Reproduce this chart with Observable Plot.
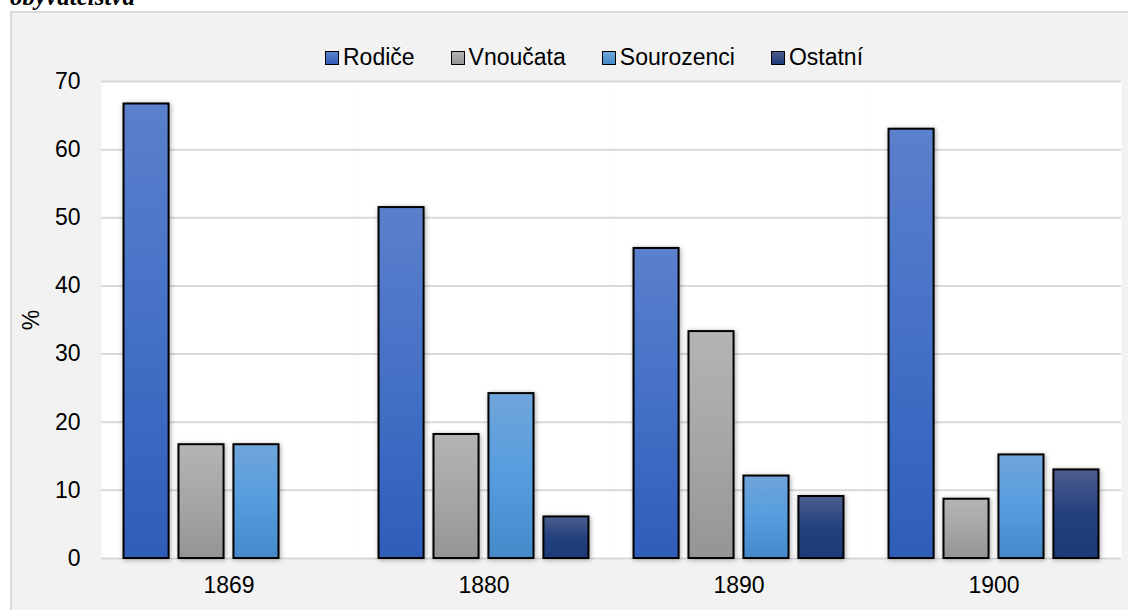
<!DOCTYPE html>
<html>
<head>
<meta charset="utf-8">
<script src="https://cdn.jsdelivr.net/npm/d3@7"></script>
<script src="https://cdn.jsdelivr.net/npm/@observablehq/plot@0.6"></script>
<style>
  html, body { margin: 0; padding: 0; background: #ffffff; overflow: hidden; }
  body { width: 1128px; height: 610px; position: relative; font-family: "Liberation Sans", Arial, sans-serif; }
  #title { position: absolute; left: 0; top: 0; }
  #box { position: absolute; left: 10px; top: 11px; width: 1130px; height: 610px; background: #f2f2f2; border: 2px solid #d9d9d9; box-sizing: border-box; }
  #chart { position: absolute; left: 0; top: 0; }
  #legend { position: absolute; top: 44px; left: 325px; display: flex; gap: 36px; font-size: 23px; color: #000; align-items: center; }
  #legend .item { display: flex; align-items: center; gap: 4px; white-space: nowrap; }
  #legend .sw { width: 12px; height: 12px; border: 1.5px solid #000; }
  #ylabel { position: absolute; left: 31px; top: 320px; transform: translate(-50%, -50%) rotate(-90deg); font-size: 23px; color: #000; z-index: 2; }
  #chart g[aria-label="bar"] rect { filter: drop-shadow(1px 1px 2.5px rgba(0,0,0,0.35)); }
</style>
</head>
<body>
<svg id="title" width="400" height="12"><text x="10" y="5" font-family="Liberation Serif" font-weight="bold" font-style="italic" font-size="25">obyvatelstva</text></svg>
<svg width="0" height="0" style="position:absolute">
  <defs>
    <linearGradient id="g-rod" x1="0" y1="0" x2="0" y2="1">
      <stop offset="0" stop-color="#5b80cc"/><stop offset="0.5" stop-color="#4470c6"/><stop offset="1" stop-color="#2f5db8"/>
    </linearGradient>
    <linearGradient id="g-vno" x1="0" y1="0" x2="0" y2="1">
      <stop offset="0" stop-color="#b4b4b4"/><stop offset="0.5" stop-color="#a6a6a6"/><stop offset="1" stop-color="#959595"/>
    </linearGradient>
    <linearGradient id="g-sou" x1="0" y1="0" x2="0" y2="1">
      <stop offset="0" stop-color="#70a5da"/><stop offset="0.5" stop-color="#569ddf"/><stop offset="1" stop-color="#4589c9"/>
    </linearGradient>
    <linearGradient id="g-ost" x1="0" y1="0" x2="0" y2="1">
      <stop offset="0" stop-color="#4d5d8d"/><stop offset="0.5" stop-color="#24417f"/><stop offset="1" stop-color="#1d3a78"/>
    </linearGradient>
  </defs>
</svg>
<div id="box"></div>
<div id="legend"></div>
<div id="chart"></div>
<div id="ylabel">%</div>
<script>
const years = ["1869", "1880", "1890", "1900"];
const series = ["Rodiče", "Vnoučata", "Sourozenci", "Ostatní"];
const rodice     = [66.7, 51.5, 45.5, 63.0];
const vnoucata   = [16.7, 18.2, 33.3, 8.7];
const sourozenci = [16.7, 24.2, 12.1, 15.2];
const ostatni    = [null, 6.1, 9.1, 13.0];
const yTicks = [0, 10, 20, 30, 40, 50, 60, 70];
const fills = ["url(#g-rod)", "url(#g-vno)", "url(#g-sou)", "url(#g-ost)"];
const swatchGradients = [["#5b80cc","#2f5db8"],["#b4b4b4","#959595"],["#70a5da","#4589c9"],["#4d5d8d","#1d3a78"]];

const valuesBySeries = [rodice, vnoucata, sourozenci, ostatni];
const data = [];
years.forEach((yr, i) => {
  series.forEach((s, j) => {
    const v = valuesBySeries[j][i];
    if (v != null) data.push({year: yr, series: s, value: v});
  });
});

// legend
const legend = document.getElementById("legend");
series.forEach((s, j) => {
  const item = document.createElement("div");
  item.className = "item";
  const sw = document.createElement("div");
  sw.className = "sw";
  sw.style.background = `linear-gradient(${swatchGradients[j][0]}, ${swatchGradients[j][1]})`;
  const t = document.createElement("span");
  t.textContent = s;
  item.appendChild(sw);
  item.appendChild(t);
  legend.appendChild(item);
});

const chart = Plot.plot({
  width: 1128,
  height: 610,
  marginLeft: 101,
  marginRight: 7,
  marginTop: 81,
  marginBottom: 52,
  style: {background: "transparent", fontFamily: "Liberation Sans, Arial, sans-serif", fontSize: "23px", color: "#000"},
  fx: {domain: years, padding: 0, label: null, tickSize: 0, tickPadding: 18, axis: "bottom"},
  x: {domain: series, axis: null, paddingInner: 0.18, paddingOuter: 0.41, round: false},
  y: {domain: [0, 70], ticks: yTicks, tickSize: 0, tickPadding: 21, label: null, grid: false},
  color: {domain: series, range: fills},
  marks: [
    Plot.frame({fill: "white", stroke: null}),
    Plot.gridY(yTicks, {stroke: "#d9d9d9", strokeOpacity: 1, strokeWidth: 2}),
    Plot.barY(data, {fx: "year", x: "series", y: "value", fill: "series", stroke: "black", strokeWidth: 2})
  ]
});
document.getElementById("chart").appendChild(chart);
</script>
</body>
</html>
